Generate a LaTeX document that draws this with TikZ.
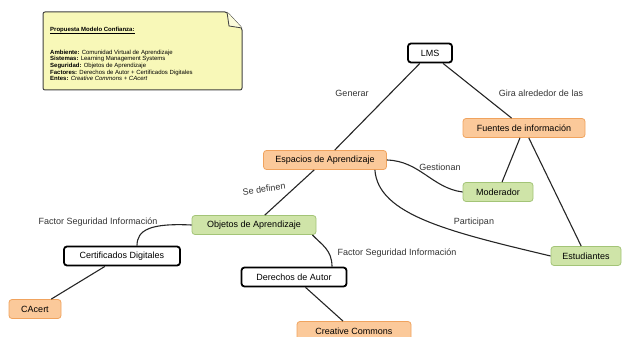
\documentclass[tikz,border=0pt]{standalone}
\usepackage{fontspec}
\setsansfont{Liberation Sans}
\usetikzlibrary{positioning,calc}
\definecolor{naranja}{HTML}{FBC99A}
\definecolor{naranjaborde}{HTML}{F0A35E}
\definecolor{verde}{HTML}{CFE4A8}
\definecolor{verdeborde}{HTML}{A3C477}
\definecolor{nota}{HTML}{F8F8B8}

\begin{document}
\begin{tikzpicture}[x=1pt,y=-1pt,
  concepto/.style={rounded corners=3pt,minimum height=19pt,inner xsep=6pt,font=\sffamily\fontsize{9}{10}\selectfont},
  blanco/.style={concepto,draw=black,line width=1.8pt,fill=white},
  naranjo/.style={concepto,draw=naranjaborde,line width=0.8pt,fill=naranja},
  verdoso/.style={concepto,draw=verdeborde,line width=0.8pt,fill=verde},
  enlace/.style={font=\sffamily\fontsize{9}{10}\selectfont,text=black!80},
  linea/.style={line width=1.1pt,draw=black!85}]
  \useasboundingbox (0,0) rectangle (622,337);
  % nota con esquina doblada
  \draw[fill=nota,draw=black!75,line width=1pt,rounded corners=2pt] (43,12) -- (227,12) -- (242,28) -- (242,90) -- (43,90) -- cycle;
  \draw[fill=nota!50,draw=black!75,line width=0.8pt] (227,12) -- (229,26) -- (242,28);
  \node[anchor=north west,align=left,inner sep=0pt,font=\sffamily\fontsize{6}{5.3}\selectfont] (textonota) at (50,26.5)
    {\textbf{\underline{Propuesta Modelo Confianza:}}\\[14.7pt]
     \textbf{Ambiente:} Comunidad Virtual de Aprendizaje\\
     \textbf{Sistemas:} Learning Management Systems\\
     \textbf{Seguridad:} Objetos de Aprendizaje\\
     \textbf{Factores:} Derechos de Autor + Certificados Digitales\\
     \textbf{Entes:} \textit{Creative Commons + CAcert}};
  % conceptos
  \node[blanco,minimum width=44pt] (lms) at (430,53) {LMS};
  \node[naranjo,minimum width=122pt] (fuentes) at (524,128) {Fuentes de información};
  \node[naranjo,minimum width=123pt] (espacios) at (325,160) {Espacios de Aprendizaje};
  \node[verdoso,minimum width=70pt] (moderador) at (498,192) {Moderador};
  \node[verdoso,minimum width=124pt] (objetos) at (254,225) {Objetos de Aprendizaje};
  \node[verdoso,minimum width=70pt] (estudiantes) at (586,256) {Estudiantes};
  \node[blanco,minimum width=116pt] (certificados) at (122,256) {Certificados Digitales};
  \node[blanco,minimum width=105pt] (derechos) at (294,277) {Derechos de Autor};
  \node[naranjo,minimum width=52pt] (cacert) at (35,309) {CAcert};
  \node[naranjo,minimum width=114pt] (creative) at (354,331) {Creative Commons};
  % enlaces
  \draw[linea] (lms) -- (espacios);
  \draw[linea] (lms) -- (fuentes);
  \draw[linea] (fuentes) -- (moderador);
  \draw[linea] (fuentes) -- (estudiantes);
  \draw[linea] (espacios) -- (objetos);
  \draw[linea] (certificados) -- (cacert);
  \draw[linea] (derechos) -- (creative);
  \draw[linea] (espacios.east) .. controls (420,161) and (432,188) .. (moderador.west);
  \draw[linea] ($(espacios.south east)+(-12,0)$) .. controls (378,215) and (450,232) .. (estudiantes.west);
  \draw[linea] (objetos.west) .. controls (150,223) and (137,230) .. ($(certificados.north)+(15,0)$);
  \draw[linea] ($(objetos.south east)+(-4,0)$) .. controls (322,245) and (332,250) .. ($(derechos.north)+(38,0)$);
  % etiquetas
  \node[enlace] (lgenerar) at (352,93) {Generar};
  \node[enlace] (lgira) at (541,93) {Gira alrededor de las};
  \node[enlace] (lgestionan) at (440,167) {Gestionan};
  \node[enlace,rotate=8] (ldefinen) at (264,189) {Se definen};
  \node[enlace] (lfactorizq) at (98,222) {Factor Seguridad Información};
  \node[enlace] (lparticipan) at (474,222) {Participan};
  \node[enlace] (lfactorder) at (397,253) {Factor Seguridad Información};
\end{tikzpicture}
\end{document}
